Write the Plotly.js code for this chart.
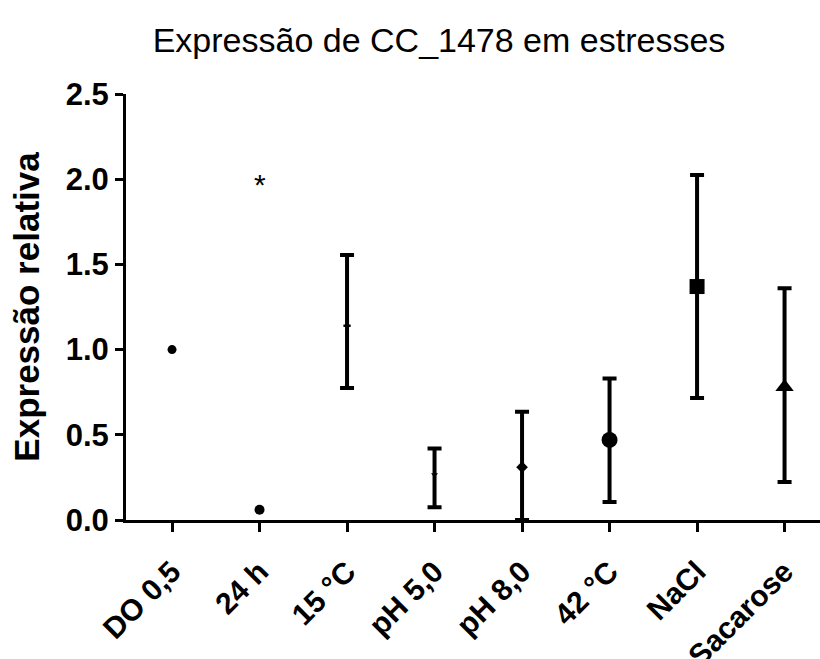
<!DOCTYPE html>
<html><head><meta charset="utf-8">
<script src="https://cdn.plot.ly/plotly-3.0.1.min.js"></script>
<style>body{margin:0;background:#fff}#c{width:820px;height:659px}</style>
</head><body><div id="c"></div>
<script>
const categories = ["DO 0,5","24 h","15 °C","pH 5,0","pH 8,0","42 °C","NaCl","Sacarose"];
const means      = [1.0, 0.06, 1.14, 0.265, 0.31, 0.47, 1.37, 0.78];
const errPlus    = [null, null, 0.415, 0.155, 0.325, 0.36, 0.655, 0.58];
const errMinus   = [null, null, 0.365, 0.19, 0.31, 0.365, 0.654, 0.557];
const symbols    = ["circle","circle","cross","triangle-down","diamond","circle","square","triangle-up"];
const sizes      = [9, 10, 6, 6, 9, 16, 15, 16];
const yTicks     = [0, 0.5, 1.0, 1.5, 2.0, 2.5];
const yTickText  = ["0.0","0.5","1.0","1.5","2.0","2.5"];
const sigCategory = "24 h", sigY = 2.0, sigText = "*";

const F = "Liberation Sans, Arial, sans-serif";
const idx = categories.map((c,i)=>i).filter(i=>errPlus[i]!==null);
const traces = [
  {type:"scatter", mode:"markers", x: idx.map(i=>i), y: idx.map(i=>means[i]),
   marker:{size:1, color:"rgba(0,0,0,0)"},
   error_y:{type:"data", symmetric:false, array: idx.map(i=>errPlus[i]), arrayminus: idx.map(i=>errMinus[i]),
            color:"#000", thickness:4, width:7},
   cliponaxis:false, showlegend:false, hoverinfo:"skip"},
  {type:"scatter", mode:"markers", x: categories.map((c,i)=>i), y: means,
   marker:{symbol:symbols, size:sizes, color:"#000", opacity:1, line:{width:0}},
   cliponaxis:false, showlegend:false}
];
const layout = {
  width:820, height:659,
  margin:{l:126, r:0, t:94, b:139},
  paper_bgcolor:"#fff", plot_bgcolor:"#fff",
  font:{family:F, color:"#000"},
  title:{text:"Expressão de CC_1478 em estresses", font:{size:34, family:F, color:"#000"},
         x:0.451, xref:"paper", xanchor:"center", y:0.939, yref:"container", yanchor:"middle"},
  xaxis:{range:[-0.526, 7.405], tickmode:"array", tickvals: categories.map((c,i)=>i), ticktext: categories,
         tickangle:-45, showline:true, linecolor:"#000", linewidth:3, ticks:"outside", ticklen:9, tickwidth:3,
         tickcolor:"#000", showgrid:false, zeroline:false, automargin:false, ticklabelstandoff:10,
         tickfont:{size:30, family:F, weight:"bold", color:"#000"}},
  yaxis:{range:[0, 2.5], tickmode:"array", tickvals:yTicks, ticktext:yTickText,
         showline:true, linecolor:"#000", linewidth:3, ticks:"outside", ticklen:8, tickwidth:3, tickcolor:"#000",
         showgrid:false, zeroline:false, automargin:false,
         tickfont:{size:31, family:F, weight:"bold", color:"#000"},
         title:{text:"Expressão relativa", standoff:16, font:{size:35, family:F, weight:"bold", color:"#000"}}},
  annotations:[{x: categories.indexOf(sigCategory), y: sigY, xref:"x", yref:"y", text:sigText, showarrow:false,
                font:{size:30, color:"#000"}, yanchor:"middle", yshift:-5}]
};
Plotly.newPlot("c", traces, layout, {displayModeBar:false});
</script></body></html>
